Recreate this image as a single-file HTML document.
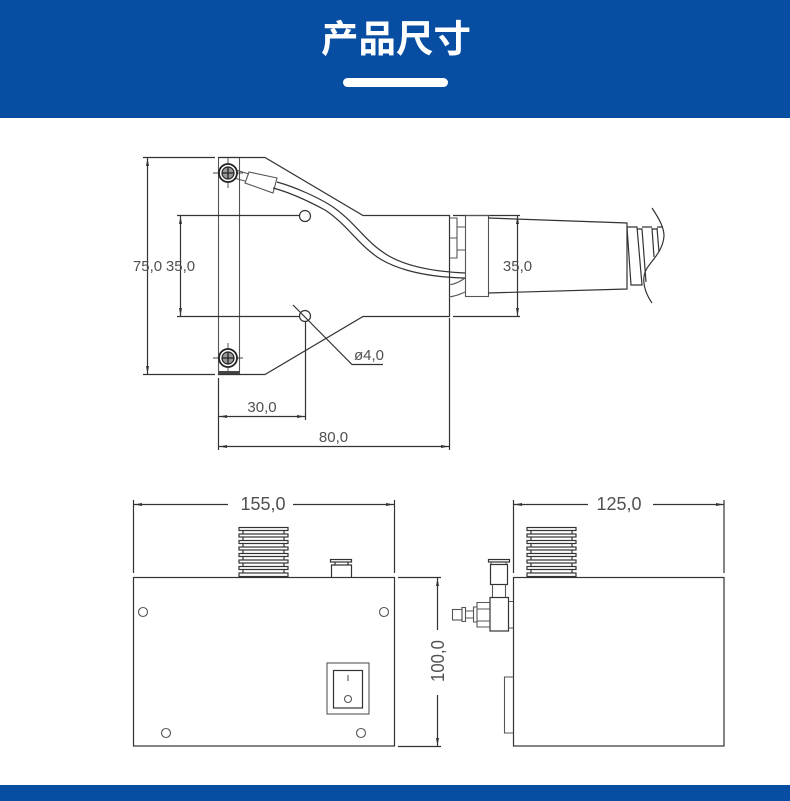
<!DOCTYPE html>
<html>
<head>
<meta charset="utf-8">
<style>
html,body{margin:0;padding:0;background:#fff;width:790px;height:801px;overflow:hidden}
svg{display:block}
.l{fill:none;stroke:#333;stroke-width:1.2}
.g{fill:none;stroke:#555;stroke-width:1.1}
.t{font-family:"Liberation Sans",sans-serif;fill:#505050;text-anchor:middle}
</style>
</head>
<body>
<svg width="790" height="801" viewBox="0 0 790 801" xmlns="http://www.w3.org/2000/svg">
<defs>
<marker id="a" markerWidth="9" markerHeight="5" refX="8" refY="2.500" orient="auto-start-reverse" markerUnits="userSpaceOnUse"><path d="M8 2.500L0 1V4Z" fill="#333"/></marker>
<g id="sink" class="l">
<path d="M4 2V50M45 2V50"/>
<rect x="0" y="0.500" width="49" height="3" fill="#fff"/>
<rect x="0" y="7" width="49" height="3" fill="#fff"/>
<rect x="0" y="13.500" width="49" height="3" fill="#fff"/>
<rect x="0" y="20" width="49" height="3" fill="#fff"/>
<rect x="0" y="26.500" width="49" height="3" fill="#fff"/>
<rect x="0" y="33" width="49" height="3" fill="#fff"/>
<rect x="0" y="39.500" width="49" height="3" fill="#fff"/>
<rect x="0" y="46" width="49" height="3.500" fill="#fff"/>
</g>
<g id="screw">
<path d="M-15 0H15M0 -15V15" stroke="#444" stroke-width=".9"/>
<circle r="9" fill="#fff" stroke="#222" stroke-width="1.8"/>
<circle r="6" fill="#999" stroke="#222" stroke-width="1.2"/>
<path d="M-6 0H6M0 -6V6" stroke="#222" stroke-width="1.300"/>
</g>
</defs>

<rect x="0" y="0" width="790" height="118" fill="#074da1"/>
<text x="396" y="52" text-anchor="middle" style="font-family:'Liberation Sans','Noto Sans CJK SC',sans-serif;font-weight:700;font-size:37.500px" fill="#fff">产品尺寸</text>
<rect x="343" y="78" width="105" height="9" rx="4.500" fill="#fff"/>
<rect x="0" y="785" width="790" height="16" fill="#074da1"/>

<!-- Top view -->
<rect class="g" x="218.500" y="157.500" width="21" height="217"/>
<path d="M218.500 372.500H239.500" stroke="#444" stroke-width="3" fill="none"/>
<path class="l" d="M218 157.500H265L363 215.500H449.500V316.500H363L265 374.500H218"/>
<path class="l" d="M143 157.500H215M143 374.500H215"/>
<path class="l" d="M147.500 158V374" marker-start="url(#a)" marker-end="url(#a)"/>
<path class="l" d="M177 215.500H300M177 316.500H300"/>
<path class="l" d="M180.500 216V316" marker-start="url(#a)" marker-end="url(#a)"/>
<circle class="l" cx="305" cy="216" r="5.500" fill="#fff"/>
<circle class="l" cx="305" cy="316" r="5.500" fill="#fff"/>
<path class="l" d="M293 305L352 364.500H383"/>
<path class="l" d="M305.500 322V420M218.500 378V450M449.500 318V450"/>
<path class="l" d="M219 416.500H305" marker-start="url(#a)" marker-end="url(#a)"/>
<path class="l" d="M219 446.500H449" marker-start="url(#a)" marker-end="url(#a)"/>

<!-- Tube and sleeve -->
<path class="g" d="M236 170L249 174M234 178L245 181"/>
<path class="g" d="M249 172L277 178L273 193L245 183Z" fill="#fff"/>
<path class="l" d="M277 182C295 187 317 197 330 205C352 219 365 240 380 250C395 262 420 271 465 273"/>
<path class="l" d="M273 188C292 193 312 203 325 210C345 223 358 243 372 253C388 267 420 277 465 278"/>
<path class="g" d="M449 285C456 284 461 281 465 278M449 297C456 296 461 294 465 292"/>

<use href="#screw" x="228" y="173"/>
<use href="#screw" x="228" y="358"/>

<!-- Handle -->
<path class="g" d="M449.500 218H457V258H449.500M449.500 238H457M457 227H465M457 250H465"/>
<path class="l" d="M453 215.500H520M453 316.500H520"/>
<rect class="g" x="465.500" y="215.500" width="23" height="81" fill="#fff"/>
<path class="l" d="M488 218L627 223V289L488 293"/>
<path class="l" d="M517.500 216V316" marker-start="url(#a)" marker-end="url(#a)"/>
<path class="l" d="M627 227H637L642 285H631L627 227M637 229H642L646 282M642 227H652M652 229H657M657 227H663M652 228L654 257M657 228L659 252"/>
<path class="l" d="M652 208C660 220 664 228 664 236C663 252 650 262 646 270C641 280 645 293 652 303"/>

<!-- Front view -->
<use href="#sink" x="239" y="527"/>
<rect class="l" x="133.500" y="577.500" width="261" height="168.500"/>
<path class="l" d="M331.500 577V565H351.500V577M335 565V562M348 565V562"/>
<rect class="l" x="330.500" y="559.500" width="21" height="2.500"/>
<path class="l" d="M133.500 500V573M394.500 500V573"/>
<path class="l" d="M134 504.500H228" marker-start="url(#a)"/>
<path class="l" d="M394 504.500H293" marker-start="url(#a)"/>
<circle class="g" cx="143" cy="612" r="4.500"/>
<circle class="g" cx="384" cy="612" r="4.500"/>
<circle class="g" cx="166" cy="733" r="4.500"/>
<circle class="g" cx="361" cy="733" r="4.500"/>
<rect class="g" x="327" y="663" width="42" height="51"/>
<rect class="l" x="333.500" y="670.500" width="29" height="37.500"/>
<path class="g" d="M348 675V681"/>
<circle class="g" cx="348" cy="699" r="3.500"/>
<path class="l" d="M398 577.500H441M398 746.500H441"/>
<path class="l" d="M437.500 578V630" marker-start="url(#a)"/>
<path class="l" d="M437.500 746V695" marker-start="url(#a)"/>

<!-- Side view -->
<use href="#sink" x="527" y="527"/>
<rect class="l" x="513.500" y="577.500" width="210.500" height="168.500"/>
<path class="g" d="M513.500 677H504.500V733H513.500"/>
<rect class="l" x="488.500" y="559.500" width="21" height="2.500"/>
<path class="g" d="M491 562V564M506 562V564"/>
<rect class="l" x="490.500" y="564.500" width="17" height="20"/>
<path class="g" d="M492.500 584.500V597M505.500 584.500V597"/>
<rect class="l" x="490" y="597.500" width="18.500" height="33.500" fill="#fff"/>
<path class="g" d="M508.500 601.500H513M508.500 628H513"/>
<path class="g" d="M490 602.500H477V627H490M477 607H473.500V622H477M477 609H490M477 621H490M473.500 611H465.500M473.500 618H465.500"/>
<rect class="g" x="462" y="607.500" width="3.500" height="14"/>
<rect class="g" x="452.500" y="609.500" width="9.500" height="10.500"/>
<path class="l" d="M513.500 500V573M724 500V573"/>
<path class="l" d="M514 504.500H588" marker-start="url(#a)"/>
<path class="l" d="M724 504.500H653" marker-start="url(#a)"/>

<!-- Labels -->
<g class="t" style="font-size:15px">
<text x="147.500" y="271">75,0</text>
<text x="180.500" y="271">35,0</text>
<text x="517.500" y="271">35,0</text>
<text x="369" y="360">ø4,0</text>
<text x="262" y="412">30,0</text>
<text x="333.500" y="442">80,0</text>
</g>
<g class="t" style="font-size:18px">
<text x="263" y="510">155,0</text>
<text x="619" y="510">125,0</text>
<text transform="translate(444 661) rotate(-90)" textLength="42" lengthAdjust="spacingAndGlyphs">100,0</text>
</g>
</svg>
</body>
</html>
